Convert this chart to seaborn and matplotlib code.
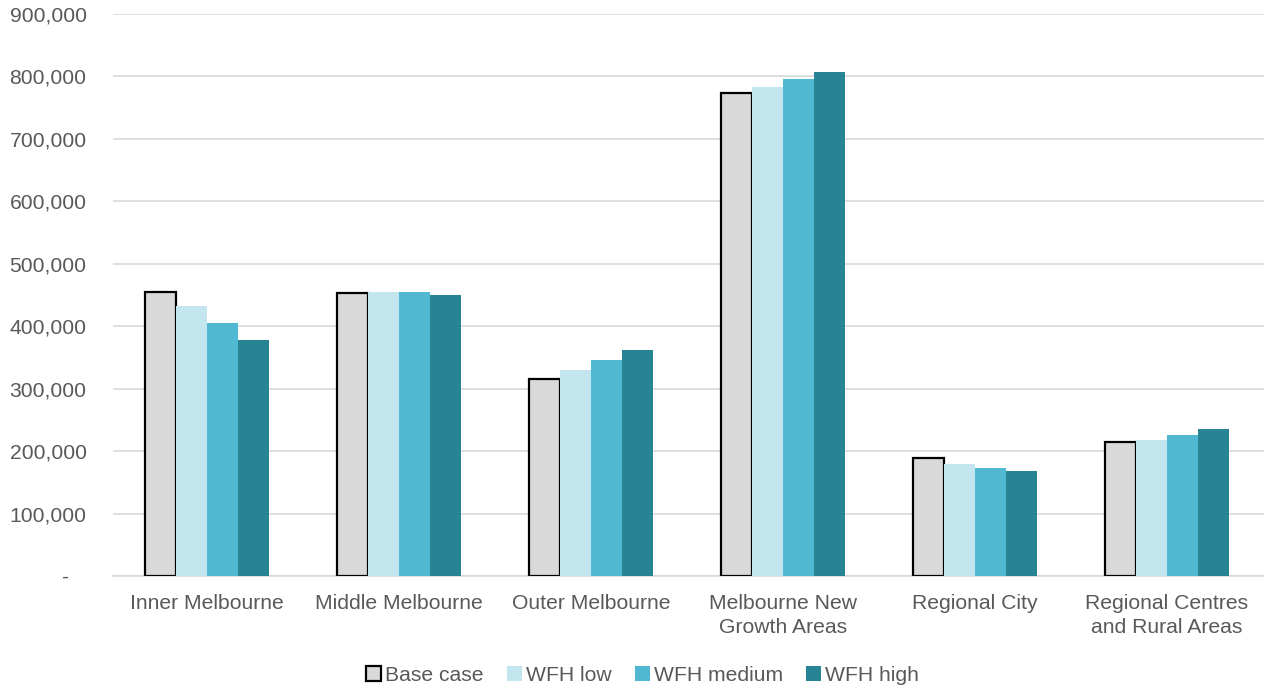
import matplotlib
matplotlib.use("Agg")
import matplotlib.pyplot as plt
from matplotlib.patches import Patch
from matplotlib.ticker import FuncFormatter
import seaborn as sns
import pandas as pd

regions = ["Inner Melbourne", "Middle Melbourne", "Outer Melbourne",
           "Melbourne New\nGrowth Areas", "Regional City",
           "Regional Centres\nand Rural Areas"]
scenarios = ["Base case", "WFH low", "WFH medium", "WFH high"]

base_case = [455000, 453500, 316000, 773000, 188600, 214200]
wfh_low = [432000, 455000, 329600, 782600, 180100, 217500]
wfh_medium = [405600, 454000, 345600, 795800, 173700, 225500]
wfh_high = [378000, 449800, 361600, 807000, 168200, 234600]

colors = ["#D9D9D9", "#C3E6EE", "#50B8D0", "#288494"]

rows = []
for name, vals in zip(scenarios, [base_case, wfh_low, wfh_medium, wfh_high]):
    for reg, v in zip(regions, vals):
        rows.append({"region": reg, "scenario": name, "value": v})
df = pd.DataFrame(rows)

sns.set_theme(style="white")
plt.rcParams["font.family"] = ["Liberation Sans", "DejaVu Sans"]

fig = plt.figure(figsize=(12.64, 6.88), dpi=100)
ax = fig.add_axes([0.0894, 0.1628, 0.9106, 0.8169])

sns.barplot(data=df, x="region", y="value", hue="scenario",
            order=regions, hue_order=scenarios, palette=colors,
            width=0.645, gap=0, saturation=1, errorbar=None,
            legend=False, ax=ax, zorder=3)

# outline the base-case bars
base_container = ax.containers[0]
for bar in base_container:
    bar.set_edgecolor("black")
    bar.set_linewidth(1.6)
for cont in ax.containers[1:]:
    for bar in cont:
        bar.set_linewidth(0)

ax.set_ylim(0, 900000)
ax.set_xlim(-0.49, 5.505)
ax.set_yticks(range(0, 900001, 100000))
ax.yaxis.set_major_formatter(
    FuncFormatter(lambda v, p: "-   " if v == 0 else f"{int(v):,}"))
ax.grid(axis="y", color="#D9D9D9", linewidth=1.2, zorder=0)
ax.set_axisbelow(True)
for side in ["left", "right", "top"]:
    ax.spines[side].set_visible(False)
ax.spines["bottom"].set_color("#D9D9D9")
ax.spines["bottom"].set_linewidth(1.2)
ax.set_xlabel("")
ax.set_ylabel("")
ax.tick_params(axis="both", length=0, labelsize=15.2, colors="#595959")
ax.tick_params(axis="x", pad=13)
ax.tick_params(axis="y", pad=19)
for lbl in ax.get_xticklabels():
    lbl.set_linespacing(1.3)

handles = [Patch(facecolor=colors[0], edgecolor="black", linewidth=1.6)] + \
          [Patch(facecolor=c, edgecolor="none") for c in colors[1:]]
leg = fig.legend(handles, scenarios, loc="center", bbox_to_anchor=(0.5085, 0.018),
                 ncol=4, frameon=False, fontsize=15.2, handlelength=0.7,
                 handleheight=0.7, handletextpad=0.2, columnspacing=1.1,
                 borderaxespad=0)
for t in leg.get_texts():
    t.set_color("#595959")

fig.savefig("out.png", dpi=100)
